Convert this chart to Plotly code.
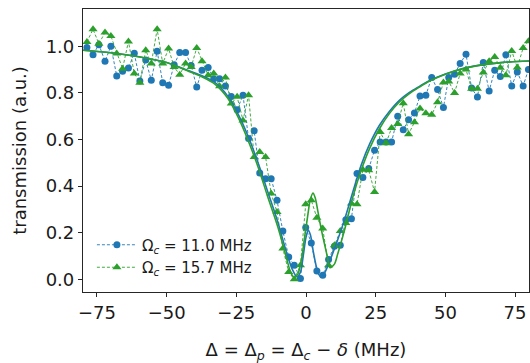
import plotly.graph_objects as go

# Detuning grid (MHz) shared by both probe scans
detuning = [-78.6, -76.4, -74.3, -72.1, -70.0, -67.9, -65.8, -63.7, -61.6, -59.6,
            -57.5, -55.5, -53.4, -51.4, -49.3, -47.3, -45.3, -43.2, -41.2, -39.2,
            -37.3, -35.1, -33.1, -31.0, -28.9, -26.8, -24.7, -22.6, -20.6, -18.6,
            -16.6, -14.5, -12.5, -10.4, -8.3, -6.2, -4.2, -2.0, -0.1, 1.9,
            3.9, 6.0, 8.1, 10.2, 12.3, 14.3, 16.3, 18.3, 20.4, 22.5,
            24.6, 26.6, 28.7, 30.7, 32.9, 34.9, 36.8, 38.9, 40.9, 43.0,
            45.1, 47.2, 49.3, 51.2, 53.3, 55.3, 57.4, 59.4, 61.5, 63.6,
            65.7, 67.7, 69.7, 71.7, 73.8, 75.8, 77.9, 79.8]

# Measured transmission, Omega_c = 11.0 MHz
trans_11 = [0.995, 0.964, 1.007, 0.936, 1.000, 0.873, 0.893, 0.907, 0.970, 0.851,
            0.941, 0.854, 0.979, 0.844, 0.833, 0.921, 0.973, 0.973, 0.918, 0.825,
            0.897, 0.909, 0.861, 0.861, 0.830, 0.785, 0.728, 0.790, 0.604, 0.637,
            0.456, 0.432, 0.432, 0.339, 0.207, 0.096, 0.060, 0.003, 0.222, 0.156,
            0.036, 0.017, 0.085, 0.142, 0.146, 0.256, 0.260, 0.454, 0.437, 0.475,
            0.554, 0.589, 0.589, 0.589, 0.700, 0.642, 0.685, 0.714, 0.787, 0.790,
            0.866, 0.814, 0.737, 0.866, 0.880, 0.926, 0.966, 0.821, 0.782, 0.930,
            0.808, 0.897, 0.870, 0.964, 0.830, 0.890, 0.830, 0.900]

# Measured transmission, Omega_c = 15.7 MHz
trans_157 = [1.018, 1.073, 1.011, 1.059, 1.044, 0.969, 0.904, 1.021, 0.883, 0.844,
             0.983, 0.926, 1.073, 0.926, 0.990, 0.911, 0.878, 0.926, 0.911, 0.993,
             0.936, 0.876, 0.883, 0.828, 0.866, 0.754, 0.783, 0.682, 0.790, 0.525,
             0.546, 0.525, 0.368, 0.289, 0.132, 0.031, 0.000, 0.060, 0.322, 0.339,
             0.264, 0.218, 0.060, 0.146, 0.207, 0.242, 0.325, 0.322, 0.470, 0.468,
             0.375, 0.632, 0.584, 0.649, 0.667, 0.756, 0.623, 0.674, 0.733, 0.713,
             0.706, 0.760, 0.845, 0.849, 0.800, 0.883, 0.900, 0.818, 0.818, 0.888,
             0.936, 0.954, 0.908, 0.876, 0.980, 0.909, 0.993, 1.022]

# Fitted model curves
fit_x_11 = [-80, -70, -60, -50, -42, -37.5, -32.7, -28, -24.4, -20.8, -17.2, -13.7,
            -10.1, -7.1, -5.0, -3.2, -2.0, -1.0, 0.0, 0.8, 1.6, 2.6, 3.6, 4.6, 5.6,
            6.8, 8.4, 10.8, 13.8, 16.8, 19.8, 22.8, 26.3, 29.9, 33.5, 37.1, 40.7,
            44.2, 50, 56, 62, 70, 80]
fit_y_11 = [0.983, 0.972, 0.955, 0.930, 0.895, 0.875, 0.845, 0.785, 0.710, 0.615,
            0.500, 0.375, 0.245, 0.120, 0.045, 0.010, 0.030, 0.100, 0.180, 0.210,
            0.190, 0.120, 0.060, 0.020, 0.010, 0.030, 0.075, 0.150, 0.255, 0.375,
            0.490, 0.580, 0.660, 0.720, 0.768, 0.802, 0.828, 0.852, 0.881, 0.904,
            0.918, 0.930, 0.937]

fit_x_157 = [-80, -70, -60, -50, -42, -37.5, -32.7, -28, -24.4, -20.8, -17.2, -13.7,
             -10.1, -7.1, -5.5, -4.2, -3.0, -1.7, -0.5, 0.7, 1.5, 2.5, 3.3, 4.2, 5.4,
             6.6, 7.8, 8.6, 10.2, 11.4, 13.8, 16.8, 19.8, 22.8, 26.3, 29.9, 33.5,
             37.1, 40.7, 44.2, 50, 56, 62, 70, 80]
fit_y_157 = [0.983, 0.972, 0.955, 0.930, 0.892, 0.870, 0.838, 0.776, 0.697, 0.597,
             0.482, 0.353, 0.224, 0.096, 0.030, 0.008, 0.020, 0.080, 0.180, 0.280,
             0.340, 0.370, 0.350, 0.296, 0.220, 0.153, 0.090, 0.050, 0.065, 0.110,
             0.210, 0.353, 0.468, 0.561, 0.645, 0.711, 0.761, 0.797, 0.825, 0.850,
             0.880, 0.903, 0.918, 0.930, 0.937]

BLUE = "#1f77b4"
GREEN = "#2ca02c"
FONT = "DejaVu Sans"
INK = "#1a1a1a"

fig = go.Figure()

fig.add_trace(go.Scatter(
    x=detuning, y=trans_11, mode="lines+markers",
    name="Ω<sub><i>c</i></sub> = 11.0 MHz",
    line=dict(color=BLUE, width=0.9, dash="3px,2px"),
    marker=dict(symbol="circle", size=7, color=BLUE),
))
fig.add_trace(go.Scatter(
    x=detuning, y=trans_157, mode="lines+markers",
    name="Ω<sub><i>c</i></sub> = 15.7 MHz",
    line=dict(color=GREEN, width=0.9, dash="3px,2px"),
    marker=dict(symbol="triangle-up", size=8, color=GREEN),
))
fig.add_trace(go.Scatter(
    x=fit_x_11, y=fit_y_11, mode="lines", showlegend=False,
    line=dict(color=BLUE, width=1.6, shape="spline", smoothing=0.8),
))
fig.add_trace(go.Scatter(
    x=fit_x_157, y=fit_y_157, mode="lines", showlegend=False,
    line=dict(color=GREEN, width=1.6, shape="spline", smoothing=0.8),
))

axis_common = dict(
    showline=True, mirror=True, linecolor="#262626", linewidth=1.2,
    ticks="outside", ticklen=4, tickwidth=1, tickcolor="#262626",
    showgrid=False, zeroline=False,
    tickfont=dict(family=FONT, size=18, color=INK),
)

fig.update_xaxes(
    range=[-80, 80], tickvals=[-75, -50, -25, 0, 25, 50, 75],
    title=dict(text="Δ = Δ<sub><i>p</i></sub> = Δ<sub><i>c</i></sub> − <i>δ</i> (MHz)",
               font=dict(family=FONT, size=18, color=INK), standoff=22),
    **axis_common,
)
fig.update_yaxes(
    range=[-0.0545, 1.16], tickvals=[0.0, 0.2, 0.4, 0.6, 0.8, 1.0], tickformat=".1f",
    title=dict(text="transmission (a.u.)",
               font=dict(family=FONT, size=18, color=INK), standoff=14),
    **axis_common,
)

fig.update_layout(
    width=530, height=363,
    margin=dict(l=83, r=1, t=9, b=71),
    paper_bgcolor="white", plot_bgcolor="white",
    font=dict(family=FONT, size=15, color=INK),
    legend=dict(
        x=0.02, y=0.03, xanchor="left", yanchor="bottom",
        bgcolor="rgba(0,0,0,0)", borderwidth=0,
        font=dict(family=FONT, size=15, color=INK),
        itemwidth=40, tracegroupgap=0,
    ),
)

fig.write_html("out.html")
